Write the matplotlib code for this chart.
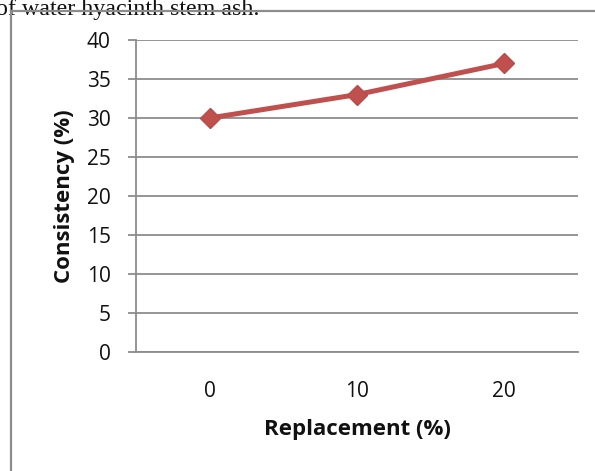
import matplotlib
matplotlib.use("Agg")
import matplotlib.pyplot as plt
from matplotlib.lines import Line2D
from matplotlib.ticker import FixedLocator

categories = ["0", "10", "20"]
consistency = [30, 33, 37]
y_ticks = [0, 5, 10, 15, 20, 25, 30, 35, 40]

W, H = 595, 471
fig = plt.figure(figsize=(W / 100, H / 100), dpi=100)

def fx(px):
    return px / W

def fy(py):
    return 1 - py / H

# outer chart border (partially visible)
fig.add_artist(Line2D([fx(11), fx(11)], [fy(11), fy(H + 5)], color="#8c8c8c", lw=1.6, transform=fig.transFigure))
fig.add_artist(Line2D([fx(11), fx(W + 5)], [fy(11), fy(11)], color="#8c8c8c", lw=1.6, transform=fig.transFigure))

# caption fragment cut at top
fig.text(fx(-4), fy(15), "of water hyacinth stem ash.", family="Liberation Serif", fontsize=17.3,
         color="#111111", ha="left", va="baseline", zorder=0)

left, right, top, bottom = 136, 578, 40, 352
ax = fig.add_axes([fx(left), fy(bottom), fx(right - left), (bottom - top) / H])

x = list(range(len(categories)))
ax.plot(x, consistency, color="#C0504D", lw=3.6, marker="D", markersize=10.5,
        markerfacecolor="#C0504D", markeredgecolor="#B84A47", zorder=3)

ax.set_xlim(-0.5, len(categories) - 0.5)
ax.set_ylim(0, 40)
ax.yaxis.set_major_locator(FixedLocator(y_ticks))
ax.set_xticks(x)
ax.set_xticklabels(categories)
ax.grid(axis="y", color="#8c8c8c", lw=1.3)
ax.set_axisbelow(True)
for s in ["top", "right"]:
    ax.spines[s].set_visible(False)
for s in ["left", "bottom"]:
    ax.spines[s].set_color("#8c8c8c")
    ax.spines[s].set_linewidth(1.3)

ax.tick_params(axis="y", length=5.8, width=1.3, color="#8c8c8c", pad=12.5, labelsize=15,
               labelfontfamily="Open Sans", labelcolor="#111111")
ax.tick_params(axis="x", length=0, pad=21, labelsize=15, labelfontfamily="Open Sans",
               labelcolor="#111111")

ax.set_xlabel("Replacement (%)", fontsize=16, fontweight="bold", family="Open Sans", labelpad=12,
              color="#111111")
ax.set_ylabel("Consistency (%)", fontsize=16, fontweight="bold", family="Open Sans", labelpad=8,
              color="#111111")

fig.savefig("out.png", dpi=100)
